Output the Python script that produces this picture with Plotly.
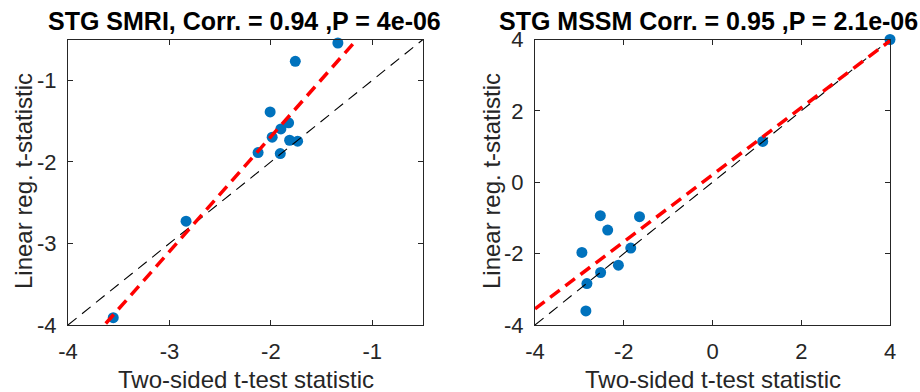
import numpy as np
import plotly.graph_objects as go

# ---- data ----
smri_ttest = [-1.339, -1.759, -2.007, -1.825, -1.901, -1.987, -1.815, -1.736, -2.126, -1.907, -2.836, -3.554]
smri_linreg = [-0.543, -0.767, -1.388, -1.522, -1.596, -1.698, -1.735, -1.747, -1.886, -1.898, -2.727, -3.910]
mssm_ttest = [4.0, 1.132, -2.528, -1.645, -2.362, -2.943, -1.842, -2.121, -2.521, -2.830, -2.853]
mssm_linreg = [4.0, 1.143, -0.937, -0.965, -1.340, -1.967, -1.845, -2.323, -2.529, -2.838, -3.607]
titles = ["STG SMRI, Corr. = 0.94 ,P = 4e-06", "STG MSSM Corr. = 0.95 ,P = 2.1e-06"]
x_ranges = [[-4, -0.5], [-4, 4]]
y_ranges = [[-4, -0.5], [-4, 4]]
tick_vals = [[-4, -3, -2, -1], [-4, -2, 0, 2, 4]]
tick_text = [["-4", "-3", "-2", "-1"], ["-4", "-2", "0", "2", "4"]]
x_label = "Two-sided t-test statistic"
y_label = "Linear reg. t-statistic"

W, H = 920, 392
FONT = "Liberation Sans, Arial, sans-serif"
TXT = "#262626"
BLUE = "#0072BD"

panels = [(smri_ttest, smri_linreg), (mssm_ttest, mssm_linreg)]
x_px = [(68, 423), (535, 890)]
y_px = (39.5, 325)

fig = go.Figure()
for i, (xs, ys) in enumerate(panels):
    xa = "x" if i == 0 else "x2"
    ya = "y" if i == 0 else "y2"
    xv = np.array(xs)
    yv = np.array(ys)
    fig.add_trace(go.Scatter(x=xv, y=yv, mode="markers", xaxis=xa, yaxis=ya,
                             marker=dict(color=BLUE, size=11, line=dict(width=0)),
                             cliponaxis=False, showlegend=False))
    lo, hi = x_ranges[i]
    xl = np.array([lo, hi])
    fig.add_trace(go.Scatter(x=xl, y=xl, mode="lines", xaxis=xa, yaxis=ya,
                             line=dict(color="black", width=1.1, dash="11px,7px"),
                             showlegend=False))
    slope, intercept = np.polyfit(xv, yv, 1)
    fig.add_trace(go.Scatter(x=xl, y=slope * xl + intercept, mode="lines", xaxis=xa, yaxis=ya,
                             line=dict(color="#FF0000", width=3.5, dash="12px,7px"),
                             showlegend=False))

axis_common = dict(showgrid=False, zeroline=False, showline=True, linecolor=TXT, linewidth=1,
                   mirror="allticks", ticks="inside", ticklen=5, tickcolor=TXT, automargin=False,
                   tickfont=dict(family=FONT, size=22, color=TXT))

layout = dict(width=W, height=H, margin=dict(l=0, r=0, t=0, b=0, autoexpand=False),
              paper_bgcolor="white", plot_bgcolor="white", showlegend=False)
ydom = [1 - y_px[1] / H, 1 - y_px[0] / H]
for i in range(2):
    sfx = "" if i == 0 else "2"
    xd = [x_px[i][0] / W, x_px[i][1] / W]
    layout["xaxis" + sfx] = dict(axis_common, domain=xd, range=x_ranges[i], tickvals=tick_vals[i],
                                 ticktext=tick_text[i], anchor="y" + sfx, ticklabelstandoff=7)
    layout["yaxis" + sfx] = dict(axis_common, domain=ydom, range=y_ranges[i], tickvals=tick_vals[i],
                                 ticktext=tick_text[i], anchor="x" + sfx, ticklabelstandoff=6)
fig.update_layout(**layout)

ann = []
ylab_x = [23, 491]
title_cx = [244.5, 708.5]
for i in range(2):
    cx = (x_px[i][0] + x_px[i][1]) / 2
    ann.append(dict(text="<b>" + titles[i] + "</b>", x=title_cx[i] / W, y=1 - 21 / H, xref="paper", yref="paper",
                    xanchor="center", yanchor="middle", showarrow=False,
                    font=dict(family=FONT, size=25, color="black")))
    ann.append(dict(text=x_label, x=cx / W, y=1 - 379.5 / H, xref="paper", yref="paper",
                    xanchor="center", yanchor="middle", showarrow=False,
                    font=dict(family=FONT, size=24, color=TXT)))
    ann.append(dict(text=y_label, x=ylab_x[i] / W, y=1 - 181 / H, xref="paper", yref="paper",
                    xanchor="center", yanchor="middle", showarrow=False, textangle=-90,
                    font=dict(family=FONT, size=24, color=TXT)))
fig.update_layout(annotations=ann)

fig.write_html("out.html", config={"displayModeBar": False},
               post_script="document.body.style.margin='0px';")
